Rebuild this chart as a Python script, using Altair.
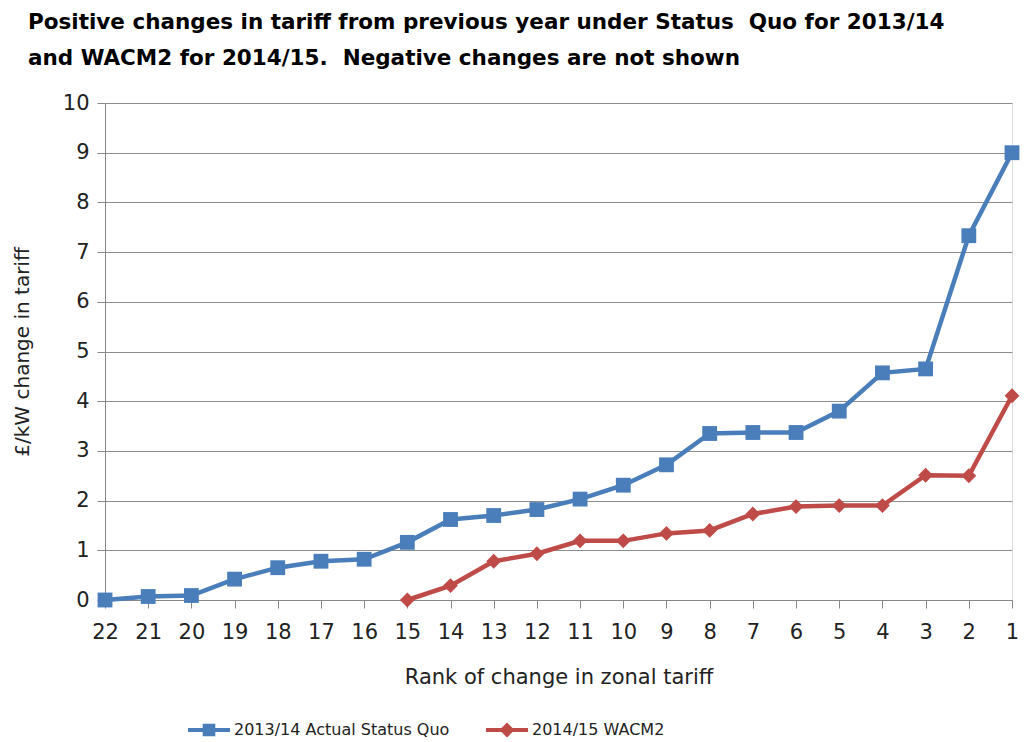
import altair as alt
import pandas as pd

# Rank of the zonal tariff change (22 = smallest, 1 = largest)
ranks = list(range(22, 0, -1))

# 2013/14 Actual Status Quo, £/kW change, ranks 22 -> 1
status_quo = [0.0, 0.07, 0.09, 0.42, 0.65, 0.78, 0.82, 1.16, 1.62, 1.70, 1.82,
              2.03, 2.31, 2.72, 3.35, 3.37, 3.37, 3.80, 4.57, 4.65, 7.33, 9.0]

# 2014/15 WACM2, £/kW change, ranks 15 -> 1
wacm2_ranks = list(range(15, 0, -1))
wacm2 = [0.0, 0.29, 0.78, 0.93, 1.19, 1.19, 1.34, 1.40, 1.73, 1.88, 1.90,
         1.90, 2.51, 2.50, 4.11]

series_names = ["2013/14 Actual Status Quo", "2014/15 WACM2"]
series_colors = ["#4a7ebb", "#be4b48"]

df = pd.concat([
    pd.DataFrame({"rank": ranks, "value": status_quo, "series": series_names[0]}),
    pd.DataFrame({"rank": wacm2_ranks, "value": wacm2, "series": series_names[1]}),
])

FONT = "DejaVu Sans"

x_enc = alt.X(
    "rank:Q",
    scale=alt.Scale(domain=[22, 1], nice=False, zero=False),
    axis=alt.Axis(
        values=ranks, format="d", title="Rank of change in zonal tariff",
        grid=False, domainColor="#888888", tickColor="#888888", tickSize=8,
        labelFlush=False, labelOverlap=False,
        labelFontSize=21, labelFont=FONT, labelColor="#222222", labelPadding=13,
        titleFont=FONT, titleFontSize=21, titleFontWeight="normal",
        titleColor="#222222", titlePadding=24,
    ),
)
y_enc = alt.Y(
    "value:Q",
    scale=alt.Scale(domain=[0, 10], nice=False),
    axis=alt.Axis(
        values=list(range(0, 11)), title="£/kW change in tariff",
        grid=True, gridColor="#8c8c8c", gridWidth=1,
        domainColor="#888888", tickColor="#888888", tickSize=8,
        labelFlush=False,
        labelFontSize=21, labelFont=FONT, labelColor="#222222", labelPadding=8,
        titleFont=FONT, titleFontSize=20, titleFontWeight="normal",
        titleColor="#222222", titlePadding=30,
    ),
)

base = alt.Chart(df).encode(x=x_enc, y=y_enc)

layers = []
for name, color, shape, size in zip(series_names, series_colors,
                                    ["square", "diamond"], [220, 220]):
    sub = base.transform_filter(alt.datum.series == name)
    layers.append(sub.mark_line(color=color, strokeWidth=4.5))
    layers.append(sub.mark_point(shape=shape, filled=True, opacity=1,
                                 color=color, size=size))

# Legend-only layer: symbols combine the line segment and the marker
bar = "M-1,-0.1H1V0.1H-1Z"
legend_shapes = [bar + " M-0.3,-0.3H0.3V0.3H-0.3Z",
                 bar + " M0,-0.36L0.36,0L0,0.36L-0.36,0Z"]
legend_props = dict(
    title=None, orient="none", direction="horizontal",
    legendX=83, legendY=606, symbolSize=1764, symbolStrokeWidth=0,
    labelFont=FONT, labelFontSize=16, labelColor="#222222", labelLimit=0,
    labelOffset=4, columnPadding=36,
)
legend_layer = base.transform_filter("false").mark_point(
    filled=True, opacity=1
).encode(
    color=alt.Color("series:N",
                    scale=alt.Scale(domain=series_names, range=series_colors),
                    legend=alt.Legend(**legend_props)),
    shape=alt.Shape("series:N",
                    scale=alt.Scale(domain=series_names, range=legend_shapes),
                    legend=alt.Legend(**legend_props)),
)

chart = alt.layer(legend_layer, *layers).properties(
    width=907,
    height=497,
    padding={"left": 105, "top": 103, "right": 13, "bottom": 142},
    autosize=alt.AutoSizeParams(type="none"),
    title=alt.TitleParams(
        text=["Positive changes in tariff from previous year under Status\u00a0 Quo for 2013/14",
              "and WACM2 for 2014/15.\u00a0 Negative changes are not shown"],
        anchor="start", frame="group", dx=-77, offset=23, font=FONT,
        fontSize=21.5, fontWeight="bold", color="#000000", lineHeight=36,
    ),
).configure_view(stroke=None).configure(background="white")

chart.save("out.html", embed_options={"renderer": "svg", "actions": False})
